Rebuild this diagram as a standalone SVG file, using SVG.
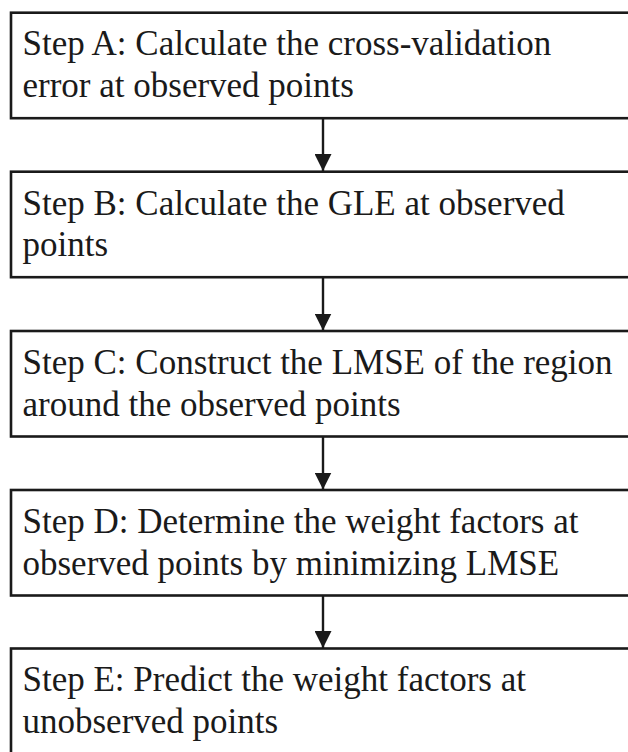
<svg xmlns="http://www.w3.org/2000/svg" width="628" height="752" viewBox="0 0 628 752">
<style>
.box{fill:#fff;stroke:#1a1a1a;stroke-width:2.6}
.t{font-family:"Liberation Serif","Times New Roman",serif;font-size:35px;fill:#1a1a1a}
.c{stroke:#1a1a1a;stroke-width:2.4;fill:none}
</style>
<defs>
<marker id="ah" viewBox="0 0 17 17" refX="17" refY="8.5" markerWidth="17" markerHeight="17" markerUnits="userSpaceOnUse" orient="auto">
<path d="M0,0 L17,8.5 L0,17 Z" fill="#1a1a1a"/>
</marker>
</defs>
<rect width="628" height="752" fill="#fff"/>
<g id="connectors">
<line class="c" x1="323" y1="118" x2="323" y2="171" marker-end="url(#ah)"/>
<line class="c" x1="323" y1="277" x2="323" y2="330.5" marker-end="url(#ah)"/>
<line class="c" x1="323" y1="436.5" x2="323" y2="489.5" marker-end="url(#ah)"/>
<line class="c" x1="323" y1="595.5" x2="323" y2="648" marker-end="url(#ah)"/>
</g>
<g id="stepA">
<rect class="box" x="11" y="12.7" width="640" height="105.5"/>
<text class="t" x="22.5" y="55">Step A: Calculate the cross-validation</text>
<text class="t" x="22.5" y="97">error at observed points</text>
</g>
<g id="stepB">
<rect class="box" x="11" y="171.7" width="640" height="105.5"/>
<text class="t" x="22.5" y="214.5">Step B: Calculate the GLE at observed</text>
<text class="t" x="22.5" y="256">points</text>
</g>
<g id="stepC">
<rect class="box" x="11" y="331" width="640" height="105.5"/>
<text class="t" x="22.5" y="373.5">Step C: Construct the LMSE of the region</text>
<text class="t" x="22.5" y="415.5">around the observed points</text>
</g>
<g id="stepD">
<rect class="box" x="11" y="490" width="640" height="105.5"/>
<text class="t" x="22.5" y="532.5">Step D: Determine the weight factors at</text>
<text class="t" x="22.5" y="574.5">observed points by minimizing LMSE</text>
</g>
<g id="stepE">
<rect class="box" x="11" y="648.5" width="640" height="120"/>
<text class="t" x="22.5" y="691">Step E: Predict the weight factors at</text>
<text class="t" x="22.5" y="733">unobserved points</text>
</g>
</svg>
